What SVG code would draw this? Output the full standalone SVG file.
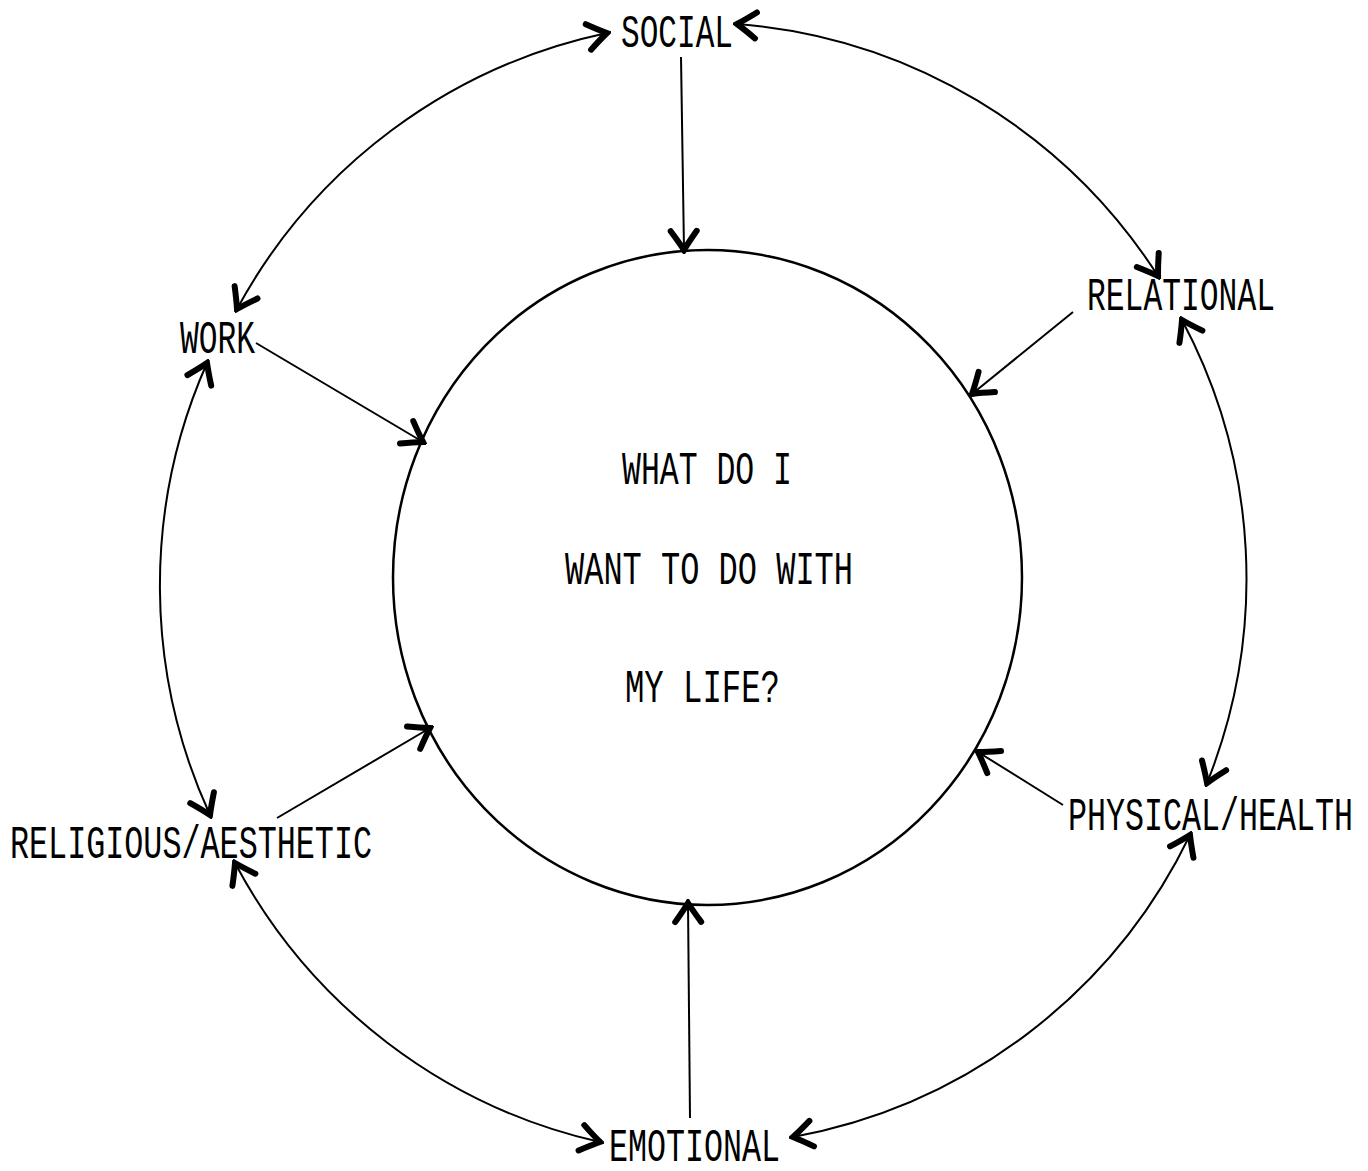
<svg xmlns="http://www.w3.org/2000/svg" width="1368" height="1171" viewBox="0 0 1368 1171">
<style>
text{font-family:"Liberation Mono","DejaVu Sans Mono",monospace;font-size:46px;fill:#000;}
.c{fill:none;stroke:#000;stroke-width:2;}
.arr{marker-end:url(#ah);}
.both{marker-start:url(#ah);marker-end:url(#ah);}
</style>
<defs>
<marker id="ah" viewBox="-26 -18 30 36" refX="0" refY="0" markerWidth="30" markerHeight="36" markerUnits="userSpaceOnUse" orient="auto-start-reverse">
<path d="M-19,-13 Q-8,-5 0,0 Q-8,5 -19,13" fill="none" stroke="#000" stroke-width="6" stroke-linecap="round"/>
</marker>
</defs>
<rect width="1368" height="1171" fill="#fff"/>
<g id="center">
<ellipse cx="707.5" cy="577.5" rx="314.5" ry="327.5" fill="none" stroke="#000" stroke-width="2.5"/>
<text x="622" y="484" textLength="170" lengthAdjust="spacingAndGlyphs">WHAT DO I</text>
<text x="565" y="584" textLength="288" lengthAdjust="spacingAndGlyphs">WANT TO DO WITH</text>
<text x="625" y="702" textLength="155" lengthAdjust="spacingAndGlyphs">MY LIFE?</text>
</g>
<g id="social"><text x="621" y="47" textLength="112" lengthAdjust="spacingAndGlyphs">SOCIAL</text></g>
<g id="work"><text x="180" y="353" textLength="75" lengthAdjust="spacingAndGlyphs">WORK</text></g>
<g id="relational"><text x="1087" y="310" textLength="188" lengthAdjust="spacingAndGlyphs">RELATIONAL</text></g>
<g id="religious"><text x="10" y="858" textLength="362" lengthAdjust="spacingAndGlyphs">RELIGIOUS/AESTHETIC</text></g>
<g id="physical"><text x="1068" y="830" textLength="285" lengthAdjust="spacingAndGlyphs">PHYSICAL/HEALTH</text></g>
<g id="emotional"><text x="609" y="1161" textLength="171" lengthAdjust="spacingAndGlyphs">EMOTIONAL</text></g>
<g id="connectors">
<path class="c arr" d="M681,57 L684,250"/>
<path class="c arr" d="M256,343 L423,442"/>
<path class="c arr" d="M1073,312 L972,394"/>
<path class="c arr" d="M1063,805 L978,752"/>
<path class="c arr" d="M690,1118 L688,903"/>
<path class="c arr" d="M277,818 L430,728"/>
<path class="c both" d="M607,33 A550,550 0 0 0 237,309"/>
<path class="c both" d="M737,24 A550,550 0 0 1 1158,276"/>
<path class="c both" d="M1182,320 A550,550 0 0 1 1207,783"/>
<path class="c both" d="M1190,835 A550,550 0 0 1 793,1137"/>
<path class="c both" d="M600,1142 A550,550 0 0 1 235,863"/>
<path class="c both" d="M210,815 A550,550 0 0 1 207,363"/>
</g>
</svg>
